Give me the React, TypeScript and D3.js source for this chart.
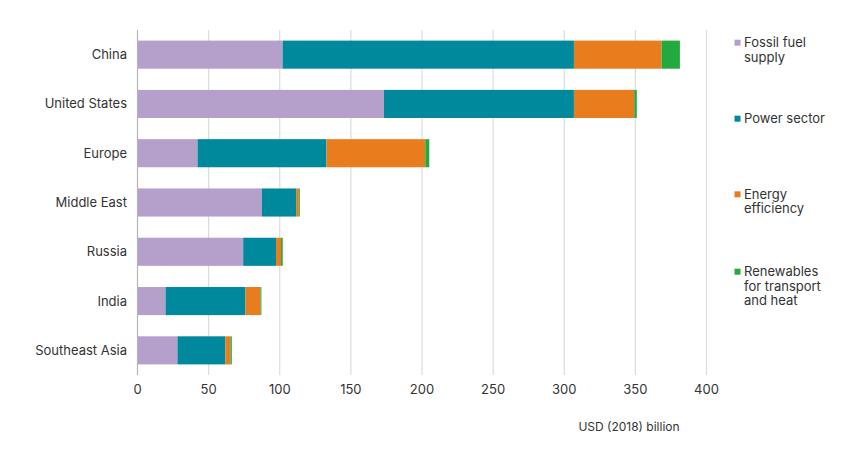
import React from "react";
import * as d3 from "d3";

const categories = ["China", "United States", "Europe", "Middle East", "Russia", "India", "Southeast Asia"];
const seriesNames = ["Fossil fuel supply", "Power sector", "Energy efficiency", "Renewables for transport and heat"];
const legendLines = [["Fossil fuel", "supply"], ["Power sector"], ["Energy", "efficiency"], ["Renewables", "for transport", "and heat"]];
const fossil = [102, 173.3, 42.2, 87.4, 74.3, 19.7, 28.1];
const power = [204.8, 133.5, 90.6, 24.1, 23.1, 56.2, 33.7];
const efficiency = [61.6, 42.4, 69.5, 1.9, 3.5, 10.5, 3.5];
const renewables = [12.9, 1.8, 2.8, 0.7, 1.2, 0.7, 1.0];
const xTicks = [0, 50, 100, 150, 200, 250, 300, 350, 400];
const colors = ["#b59fcb", "#00889d", "#e97c1c", "#22aa3f"];
const axisTitle = "USD (2018) billion";

const W = 865;
const H = 466;
const FONT = "Inter, 'Noto Sans', sans-serif";

export default function App() {
  const x = d3.scaleLinear().domain([0, 400]).range([137.5, 706.5]);
  const y = d3.scaleBand<string>().domain(categories).range([30, 375]).paddingInner(0.43).paddingOuter(0.215);
  const rows = categories.map((c, i) => ({ c, v: [fossil[i], power[i], efficiency[i], renewables[i]] }));
  const stacked = d3.stack<any, number>().keys([0, 1, 2, 3]).value((d: any, k: number) => d.v[k])(rows as any);
  const legendY = [42.7, 118.7, 194.3, 271.7];
  return (
    <svg width={W} height={H} style={{ position: "absolute", left: 0, top: 0, background: "#fff" }} fontFamily={FONT}>
      {xTicks.slice(1).map((t) => (
        <line key={t} x1={x(t)} x2={x(t)} y1={30} y2={375} stroke="#dcdcdc" strokeWidth={1.2} />
      ))}
      {stacked.map((s, si) => (
        <g key={si} fill={colors[si]}>
          {s.map((d: any, i: number) => (
            <rect key={i} x={x(d[0])} y={y(categories[i])} width={Math.max(0, x(d[1]) - x(d[0]))} height={y.bandwidth()} />
          ))}
        </g>
      ))}
      <line x1={x(0)} x2={x(0)} y1={30} y2={375} stroke="#b5b5b5" strokeWidth={1.2} />
      {categories.map((c) => (
        <text key={c} x={127} y={(y(c) as number) + y.bandwidth() / 2} dy="0.35em" textAnchor="end" fontSize={13} fill="#333">
          {c}
        </text>
      ))}
      {xTicks.map((t) => (
        <text key={t} x={x(t)} y={389} dy="0.35em" textAnchor="middle" fontSize={13} fill="#333">
          {t}
        </text>
      ))}
      <text x={629} y={427} dy="0.35em" textAnchor="middle" fontSize={12} fill="#333">
        {axisTitle}
      </text>
      {seriesNames.map((n, i) => (
        <g key={n}>
          <rect x={734.5} y={legendY[i] - 3} width={6} height={6} fill={colors[i]} />
          {legendLines[i].map((l, j) => (
            <text key={j} x={744} y={legendY[i] + j * 14.5} dy="0.35em" fontSize={13} fill="#333">
              {l}
            </text>
          ))}
        </g>
      ))}
    </svg>
  );
}
